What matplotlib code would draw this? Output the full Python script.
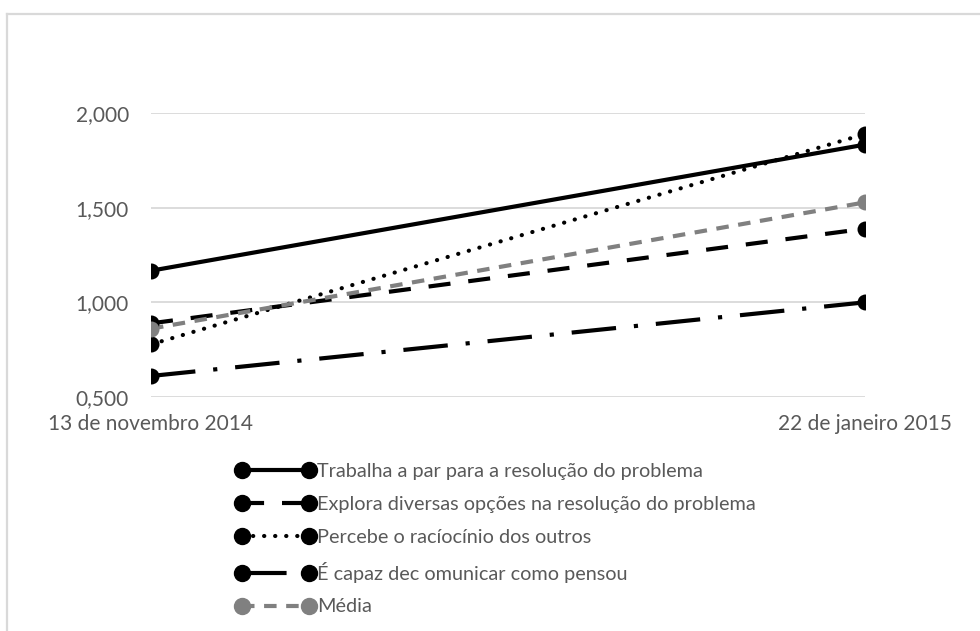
import matplotlib.pyplot as plt
from matplotlib.lines import Line2D
from matplotlib.ticker import FuncFormatter

datas = ["13 de novembro 2014", "22 de janeiro 2015"]
trabalha = [1.167, 1.833]
explora = [0.889, 1.389]
percebe = [0.778, 1.889]
capaz = [0.611, 1.000]
media = [0.861, 1.528]

nomes = [
    "Trabalha a par para a resolução do problema",
    "Explora diversas opções na resolução do problema",
    "Percebe o racíocínio dos outros",
    "É capaz dec omunicar como pensou",
    "Média",
]

plt.rcParams['font.family'] = ['Lato', 'DejaVu Sans']
cinza = '#595959'

fig = plt.figure(figsize=(9.8, 6.31), dpi=100)
ax = fig.add_axes([151 / 980, 234 / 631, 714 / 980, 284 / 631])

x = [0, 1]
estilos = [
    dict(color='black', ls='-'),
    dict(color='black', dashes=(5.3, 4.3)),
    dict(color='black', dashes=(0.05, 2.6), dash_capstyle='round'),
    dict(color='black', dashes=(10.7, 4.3, 1, 4.3)),
    dict(color='#808080', dashes=(3, 2.3)),
]
series = [trabalha, explora, percebe, capaz, media]
handles = []
for vals, nome, st in zip(series, nomes, estilos):
    ax.plot(x, vals, lw=3, **st)
    # markers as scatter so they get cut at the plot edges
    ax.scatter(x, vals, s=11.5 ** 2, color=st['color'], zorder=3, linewidths=0)
    handles.append(Line2D([], [], lw=3, marker='o', ms=11.5, mec=st['color'],
                          mfc=st['color'], label=nome, **st))

ax.set_xlim(0, 1)
ax.set_ylim(0.5, 2.0)
ax.set_yticks([0.5, 1.0, 1.5, 2.0])
ax.yaxis.set_major_formatter(FuncFormatter(lambda v, p: f"{v:.3f}".replace('.', ',')))
ax.set_xticks(x)
ax.set_xticklabels(datas)
ax.grid(axis='y', color='#d9d9d9', lw=1.3)
ax.set_axisbelow(True)
for s in ax.spines.values():
    s.set_visible(False)
ax.tick_params(length=0, colors=cinza, labelsize=15)
ax.tick_params(axis='y', pad=16)
ax.tick_params(axis='x', pad=12)

ax.legend(handles=handles, loc='upper left', bbox_to_anchor=(228 / 980, 1 - 455 / 631),
          bbox_transform=fig.transFigure, frameon=False, numpoints=2,
          handlelength=4.0, handletextpad=0.1, labelspacing=0.8,
          fontsize=14.3, labelcolor=cinza, borderaxespad=0)

fig.add_artist(Line2D([7 / 980, 1], [1 - 13.5 / 631] * 2, color='#d9d9d9', lw=1.6,
                      transform=fig.transFigure))
fig.add_artist(Line2D([7 / 980] * 2, [0, 1 - 13.5 / 631], color='#d9d9d9', lw=1.6,
                      transform=fig.transFigure))

fig.savefig('out.png', dpi=100)
